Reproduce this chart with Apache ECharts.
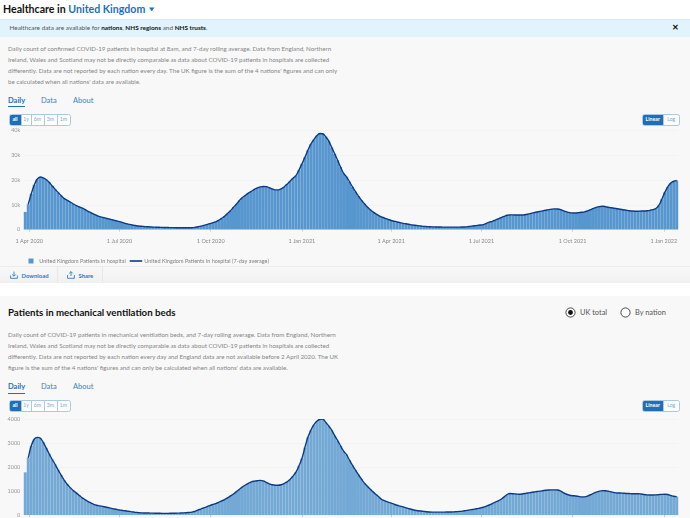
<!DOCTYPE html>
<html><head><meta charset="utf-8">
<script src="https://cdn.jsdelivr.net/npm/echarts@6/dist/echarts.min.js"></script>
<style>
html,body{margin:0;padding:0;width:690px;height:518px;overflow:hidden;background:#fff;font-family:Lato,"Noto Sans",sans-serif}
.a{position:absolute;white-space:nowrap;line-height:1}
.box{position:absolute}
#c{position:absolute;left:0;top:0;width:690px;height:518px;z-index:2}
.d{color:#858585;font-size:6.2px}
.tab{color:#3f7fbb;font-size:7.5px}
.btns{position:absolute;display:flex;height:9.5px;outline:.7px solid #a9c9e6;border-radius:1.5px;background:#fff;z-index:3}
.btns span{display:block;font-size:5.2px;line-height:9.5px;text-align:center;color:#7fa6cc;border-right:.5px solid #a9c9e6;box-sizing:border-box}
.btns span.on{background:#1d70b8;color:#fff;font-weight:700}
.btns span:last-child{border-right:0}
b{color:#111}
</style></head><body>
<div class="box" style="left:0;top:19px;width:690px;height:1px;background:#dfe6ea"></div>
<div class="box" style="left:0;top:20px;width:690px;height:17px;background:#e1f3fd"></div>
<div class="box" style="left:0;top:37px;width:690px;height:230px;background:#f8f8f8"></div>
<div class="box" style="left:0;top:266px;width:690px;height:17px;background:linear-gradient(#f8f8f8,#f0f0f0);border-top:.7px solid #ececec;box-sizing:border-box"></div>
<div class="box" style="left:56.5px;top:266px;width:.7px;height:17px;background:#e8e8e8"></div>
<div class="box" style="left:102px;top:266px;width:.7px;height:17px;background:#e8e8e8"></div>
<div class="box" style="left:0;top:296px;width:690px;height:222px;background:#f8f8f8"></div>

<div class="a" style="left:3px;top:4px;font-size:10.6px;font-weight:700;color:#111">Healthcare in <span style="color:#1d70b8">United Kingdom</span></div>
<svg class="box" style="left:149px;top:7px" width="6" height="5"><path d="M0 .5H5.5L2.75 4.2Z" fill="#1d70b8"/></svg>
<div class="a" style="left:9.5px;top:25px;font-size:6.4px;color:#555">Healthcare data are available for <b>nations</b>, <b>NHS regions</b> and <b>NHS trusts</b>.</div>
<div class="a" style="left:671.5px;top:24px;font-size:7.5px;font-weight:900;color:#111">✕</div>

<div class="a d" style="left:8px;top:46px">Daily count of confirmed COVID-19 patients in hospital at 8am, and 7-day rolling average. Data from England, Northern</div>
<div class="a d" style="left:8px;top:57px">Ireland, Wales and Scotland may not be directly comparable as data about COVID-19 patients in hospitals are collected</div>
<div class="a d" style="left:8px;top:68px">differently. Data are not reported by each nation every day. The UK figure is the sum of the 4 nations' figures and can only</div>
<div class="a d" style="left:8px;top:79px">be calculated when all nations' data are available.</div>
<div class="a tab" style="left:8px;top:96.5px;color:#1d70b8;font-weight:700">Daily</div>
<div class="a tab" style="left:41px;top:96.5px">Data</div>
<div class="a tab" style="left:73px;top:96.5px">About</div>
<div class="box" style="left:8px;top:106px;width:17px;height:1.2px;background:#1d70b8"></div>
<div class="btns" style="left:9.5px;top:115px"><span class="on" style="width:12px">all</span><span style="width:10px">1y</span><span style="width:13px">6m</span><span style="width:13px">3m</span><span style="width:12px">1m</span></div>
<div class="btns" style="left:642.5px;top:115px"><span class="on" style="width:21.5px">Linear</span><span style="width:14.5px">Log</span></div>

<svg class="box" style="left:10px;top:271px" width="8" height="8"><path d="M4 .5V5M2.2 3.4 4 5.2 5.8 3.4M.6 4.5V7.3H7.4V4.5" fill="none" stroke="#1d70b8" stroke-width=".8"/></svg>
<div class="a" style="left:21.5px;top:272.6px;font-size:5.9px;font-weight:700;color:#2f7abf">Download</div>
<svg class="box" style="left:67px;top:271px" width="8" height="8"><path d="M4 5V.7M2.2 2.4 4 .6 5.8 2.4M.6 4V7.3H7.4V4" fill="none" stroke="#1d70b8" stroke-width=".8"/></svg>
<div class="a" style="left:78.5px;top:272.6px;font-size:5.9px;font-weight:700;color:#2f7abf">Share</div>

<div class="a" style="left:8px;top:308px;font-size:9.7px;font-weight:700;color:#111">Patients in mechanical ventilation beds</div>
<svg class="box" style="left:565px;top:307px" width="11" height="11"><circle cx="5.5" cy="5.5" r="4.6" fill="#fff" stroke="#222" stroke-width=".8"/><circle cx="5.5" cy="5.5" r="2.4" fill="#111"/></svg>
<div class="a" style="left:580px;top:309px;font-size:7.4px;color:#555">UK total</div>
<svg class="box" style="left:620px;top:307px" width="11" height="11"><circle cx="5.5" cy="5.5" r="4.6" fill="#fff" stroke="#222" stroke-width=".8"/></svg>
<div class="a" style="left:635px;top:309px;font-size:7.4px;color:#555">By nation</div>

<div class="a d" style="left:8px;top:331.5px">Daily count of COVID-19 patients in mechanical ventilation beds, and 7-day rolling average. Data from England, Northern</div>
<div class="a d" style="left:8px;top:342.5px">Ireland, Wales and Scotland may not be directly comparable as data about COVID-19 patients in hospitals are collected</div>
<div class="a d" style="left:8px;top:353.5px">differently. Data are not reported by each nation every day and England data are not available before 2 April 2020. The UK</div>
<div class="a d" style="left:8px;top:364.5px">figure is the sum of the 4 nations' figures and can only be calculated when all nations' data are available.</div>
<div class="a tab" style="left:8px;top:383px;color:#1d70b8;font-weight:700">Daily</div>
<div class="a tab" style="left:41px;top:383px">Data</div>
<div class="a tab" style="left:73px;top:383px">About</div>
<div class="box" style="left:8px;top:393px;width:17px;height:1.2px;background:#1d70b8"></div>
<div class="btns" style="left:9.5px;top:401px"><span class="on" style="width:12px">all</span><span style="width:10px">1y</span><span style="width:13px">6m</span><span style="width:13px">3m</span><span style="width:12px">1m</span></div>
<div class="btns" style="left:642.5px;top:401px"><span class="on" style="width:21.5px">Linear</span><span style="width:14.5px">Log</span></div>

<div id="c"></div>
<script>
// Values, one sample every 3 days from 28 Mar 2020
const hospitalPatients = [7100,10200,14400,18000,20300,21200,20900,20200,19100,17700,16300,15000,13700,12600,11900,11200,10400,9700,9200,8700,8100,7400,6800,6200,5700,5200,4900,4600,4300,4000,3700,3400,3100,2700,2350,2050,1800,1600,1400,1300,1200,1120,1050,980,920,880,840,810,790,760,740,720,700,690,680,680,700,850,1100,1350,1650,2000,2350,2700,3100,3700,4500,5300,6500,7600,9000,10300,11700,12900,13800,14700,15400,16200,16800,17200,17400,17300,16900,16400,16000,16000,16400,17200,18300,19500,20700,21800,24000,26500,29200,32000,34500,36300,37900,38800,38700,37500,35800,33200,30600,28000,25200,22700,21300,19300,17200,15300,13500,11800,10400,9100,8000,7000,6200,5500,4950,4500,4050,3650,3350,3050,2800,2500,2300,2100,1850,1700,1550,1400,1250,1170,1100,1060,1030,1000,980,970,960,950,950,950,950,1000,1060,1200,1350,1500,1650,1800,2000,2500,2950,3300,3800,4300,4800,5300,5750,5900,5900,5850,5850,5850,5950,6200,6500,6800,7050,7300,7550,7800,8050,8250,8350,8300,8000,7500,7100,6800,6650,6650,6800,6950,7100,7500,8000,8500,8950,9250,9400,9250,9000,8800,8600,8400,8200,8000,7800,7600,7450,7400,7400,7450,7500,7600,7750,8000,8500,9700,12200,15000,17200,18800,19500,19800];
const ventilationPatients = [1790,2400,2900,3180,3260,3230,3060,2820,2570,2340,2130,1900,1680,1470,1300,1160,1040,940,840,730,650,570,510,450,410,385,360,335,310,280,250,225,205,185,170,150,130,110,100,90,85,82,80,78,75,72,70,70,70,72,75,78,82,88,95,105,120,150,205,250,300,345,395,440,480,530,590,650,720,800,880,980,1080,1180,1260,1330,1390,1420,1440,1455,1430,1370,1310,1270,1250,1250,1270,1320,1390,1490,1630,1800,2060,2370,2830,3260,3560,3780,3930,4020,4030,3890,3740,3560,3330,3120,2900,2680,2530,2300,2080,1880,1690,1510,1340,1210,1080,960,850,740,640,590,540,500,450,410,375,340,300,265,230,200,180,165,150,135,125,122,120,120,120,122,125,128,130,140,150,165,185,205,225,245,270,295,325,370,420,480,540,590,660,760,860,900,890,880,870,880,900,925,945,965,985,1000,1020,1040,1050,1055,1055,1050,1000,930,870,830,810,800,780,760,760,790,850,910,960,1000,1025,1020,1000,970,940,925,925,915,905,900,895,895,895,880,860,845,840,840,845,855,865,870,860,820,785,770];
const tickDates = ['2020-04-01','2020-07-01','2020-10-01','2021-01-01','2021-04-01','2021-07-01','2021-10-01','2022-01-01'];
const tickLabels = ['1 Apr 2020','1 Jul 2020','1 Oct 2020','1 Jan 2021','1 Apr 2021','1 Jul 2021','1 Oct 2021','1 Jan 2022'];
const firstSample = '2020-03-28';
const sampleStepDays = 3;
const nameBar = 'United Kingdom Patients in hospital';
const nameLine = 'United Kingdom Patients in hospital (7-day average)';

const DAY = 864e5;
const t0 = Date.parse(firstSample + 'T00:00:00Z');
const pairs = vals => vals.map((v, i) => [t0 + i * sampleStepDays * DAY, v]);
const tickTimes = tickDates.map(d => Date.parse(d + 'T00:00:00Z'));
const labelAt = t => { const i = tickTimes.indexOf(+t); return i < 0 ? '' : tickLabels[i]; };
const xMin = Date.parse('2020-03-26T12:00:00Z'), xMax = Date.parse('2022-01-15T12:00:00Z');

const xAxis = g => ({
  type: 'value', gridIndex: g, min: xMin, max: xMax, offset: 4,
  axisLine: { show: false }, splitLine: { show: false }, minorTick: { show: false },
  axisTick: { show: true, length: 2, lineStyle: { color: '#aaa', width: .6 }, customValues: tickTimes },
  axisLabel: { customValues: tickTimes, formatter: v => labelAt(v), fontSize: 5.5, color: '#888', fontFamily: 'Lato', margin: 4.5, hideOverlap: false }
});
const yAxis = (g, max, step, fmt) => ({
  type: 'value', gridIndex: g, min: 0, max, interval: step,
  axisLine: { show: false }, axisTick: { show: false },
  splitLine: { lineStyle: { color: '#f0f0f0', width: .7 } },
  axisLabel: { formatter: fmt, fontSize: 5.5, color: '#999', fontFamily: 'Lato', margin: 3.5 }
});
const lineOf = (vals, name, g) => ({
  type: 'line', name, xAxisIndex: g, yAxisIndex: g, data: pairs(vals).slice(1), smooth: .3, showSymbol: false,
  lineStyle: { color: '#0b3b83', width: 1.4 }, itemStyle: { color: '#0b3b83' }, z: 5
});
const barOf = (vals, name, g, color) => ({
  type: 'bar', name, xAxisIndex: g, yAxisIndex: g, data: pairs(vals), barWidth: 3, itemStyle: { color }, z: 2, clip: false
});

const chart = echarts.init(document.getElementById('c'), null, { renderer: 'canvas' });
chart.setOption({
  animation: false, backgroundColor: 'transparent',
  grid: [
    { left: 23.8, right: 11.8, top: 130.5, height: 99, outerBoundsMode: 'none' },
    { left: 23.8, right: 11.8, top: 419.7, height: 95.3, outerBoundsMode: 'none' }
  ],
  xAxis: [xAxis(0), xAxis(1)],
  yAxis: [
    yAxis(0, 40000, 10000, v => v === 0 ? '0' : (v / 1000) + 'k'),
    yAxis(1, 4000, 1000, v => String(v))
  ],
  legend: {
    left: 28.5, top: 258, padding: 0, itemGap: 4, itemWidth: 12.5, itemHeight: 5,
    data: [
      { name: nameBar, icon: 'path://M0 0H5V5H0Z', itemStyle: { color: '#5796ce' } },
      { name: nameLine, icon: 'path://M0 1.7H12.5V3.3H0Z', itemStyle: { color: '#0b3b83' } }
    ],
    textStyle: { fontSize: 5.5, color: '#808080', fontFamily: 'Lato', padding: [0, 0, 0, -3] }
  },
  series: [
    barOf(hospitalPatients, nameBar, 0, '#5796ce'),
    lineOf(hospitalPatients, nameLine, 0),
    barOf(ventilationPatients, 'Patients in mechanical ventilation beds', 1, '#74a9d6'),
    lineOf(ventilationPatients, 'Patients in mechanical ventilation beds (7-day average)', 1)
  ]
});
</script>
</body></html>
